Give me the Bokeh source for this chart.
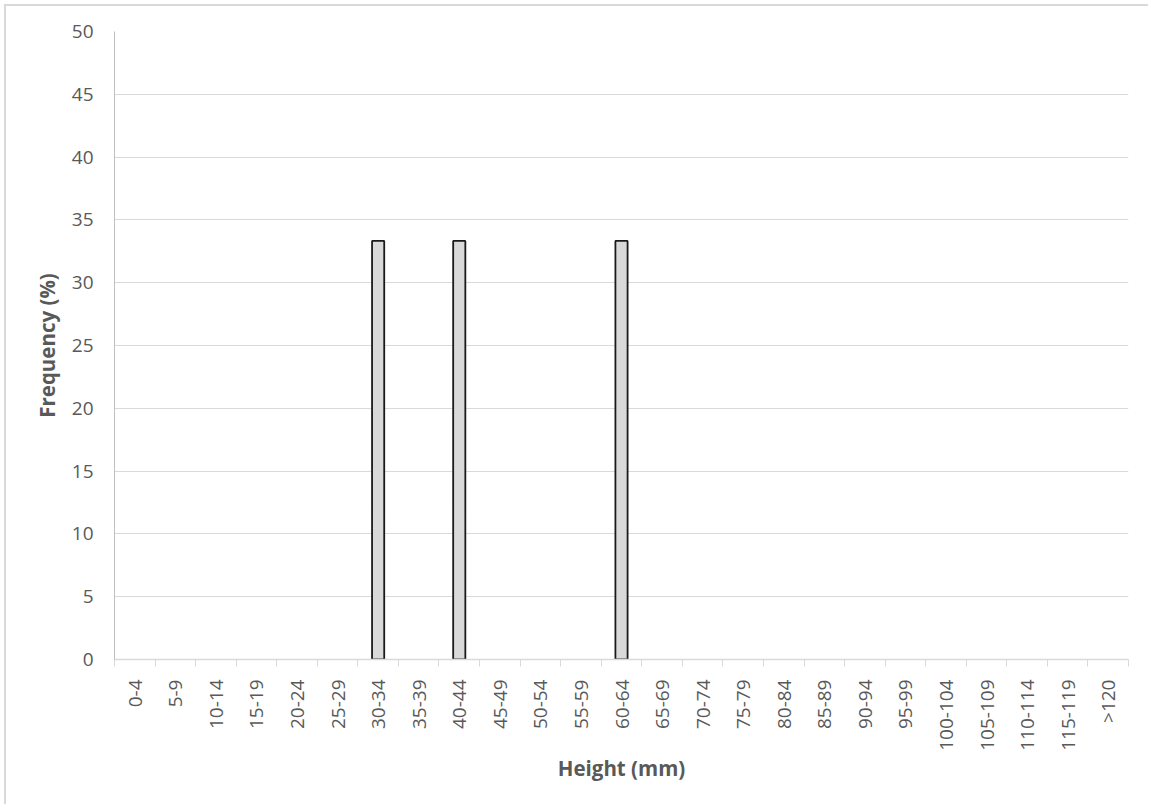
import numpy as np
from bokeh.plotting import figure
from bokeh.models import Range1d, FixedTicker
from bokeh.embed import file_html
from bokeh.resources import INLINE

categories = ["0-4", "5-9", "10-14", "15-19", "20-24", "25-29", "30-34", "35-39",
              "40-44", "45-49", "50-54", "55-59", "60-64", "65-69", "70-74", "75-79",
              "80-84", "85-89", "90-94", "95-99", "100-104", "105-109", "110-114",
              "115-119", ">120"]
frequency = [0, 0, 0, 0, 0, 0, 33.33, 0, 33.33, 0, 0, 0, 33.33, 0, 0, 0,
             0, 0, 0, 0, 0, 0, 0, 0, 0]
y_ticks = [0, 5, 10, 15, 20, 25, 30, 35, 40, 45, 50]

n = len(categories)
centers = [i + 0.5 for i in range(n)]
bounds = [float(i) for i in range(n + 1)]

p = figure(frame_width=1014, frame_height=628,
           x_range=Range1d(0, n), y_range=Range1d(0, 50),
           output_backend="svg", toolbar_location=None,
           min_border_left=108, min_border_right=20,
           min_border_top=25, min_border_bottom=145)
p.styles = {"border-left": "2px solid #d9d9d9", "border-top": "2px solid #d9d9d9",
            "margin-left": "4px", "margin-top": "4px"}
p.outline_line_color = None
p.background_fill_color = "white"
p.border_fill_color = "white"

nz_x = [c for c, v in zip(centers, frequency) if v > 0]
nz_y = [v for v in frequency if v > 0]
p.vbar(x=nz_x, top=nz_y, bottom=0, width=0.3,
       fill_color="#d9d9d9", line_color="#1a1a1a", line_width=1.8)

# X axis
xa = p.xaxis[0]
xa.ticker = FixedTicker(ticks=centers, minor_ticks=bounds)
xa.major_label_overrides = {c: lab for c, lab in zip(centers, categories)}
xa.major_label_orientation = np.pi / 2
xa.major_tick_line_color = None
xa.major_tick_out = 0
xa.major_tick_in = 0
xa.minor_tick_out = 7
xa.minor_tick_in = 0
xa.minor_tick_line_color = "#d9d9d9"
xa.axis_line_color = "#d9d9d9"
xa.axis_line_width = 1.5
xa.major_label_standoff = 13
xa.major_label_text_font = "Open Sans"
xa.major_label_text_font_size = "19px"
xa.major_label_text_color = "#595959"
xa.axis_label = "Height (mm)"
xa.axis_label_text_font = "Open Sans"
xa.axis_label_text_font_style = "bold"
xa.axis_label_text_font_size = "20.5px"
xa.axis_label_text_color = "#595959"
xa.axis_label_standoff = 0

# Y axis
ya = p.yaxis[0]
ya.ticker = FixedTicker(ticks=y_ticks)
ya.major_tick_line_color = None
ya.minor_tick_line_color = None
ya.axis_line_color = "#bfbfbf"
ya.major_label_standoff = 15
ya.major_label_text_font = "Open Sans"
ya.major_label_text_font_size = "19px"
ya.major_label_text_color = "#595959"
ya.axis_label = "Frequency (%)"
ya.axis_label_text_font = "Open Sans"
ya.axis_label_text_font_style = "bold"
ya.axis_label_text_font_size = "20.5px"
ya.axis_label_text_color = "#595959"
ya.axis_label_standoff = 8

p.xgrid.grid_line_color = None
p.ygrid.ticker = FixedTicker(ticks=y_ticks)
p.ygrid.grid_line_color = "#d9d9d9"
p.ygrid.grid_line_width = 1

open("out.html", "w").write(file_html(p, INLINE))
